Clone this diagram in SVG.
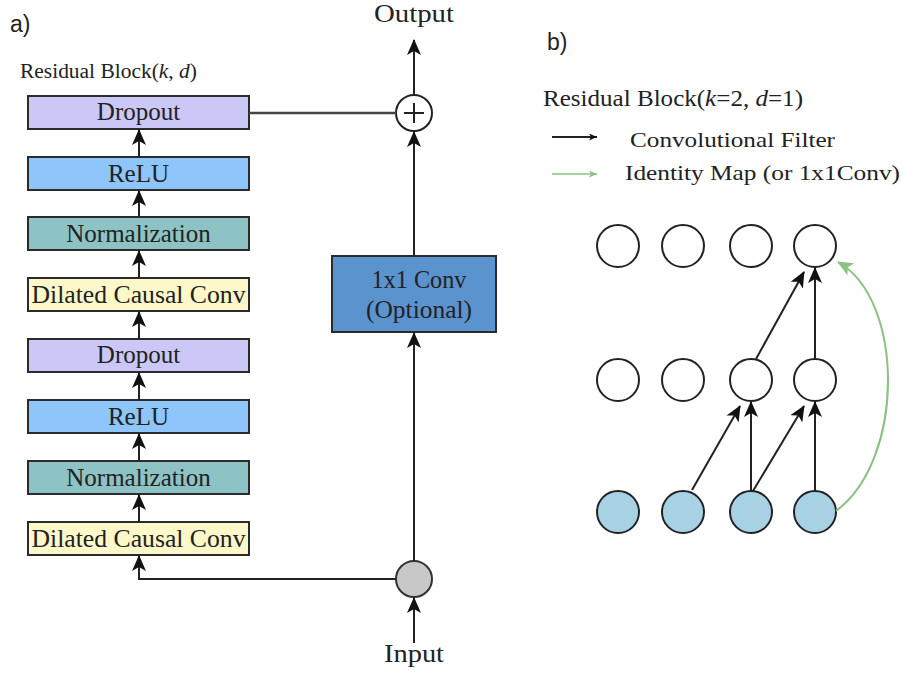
<svg xmlns="http://www.w3.org/2000/svg" width="903" height="673" viewBox="0 0 903 673">
<defs>
<style>
.box{stroke:#2b2b2b;stroke-width:2}
.lbl{font-family:"Liberation Serif",serif;font-size:25px;fill:#222;text-anchor:middle}
.serif{font-family:"Liberation Serif",serif;fill:#222}
.sans{font-family:"Liberation Sans",sans-serif;font-size:23px;fill:#222}
.ln{stroke:#222;stroke-width:2;fill:none}
.node{fill:#fff;stroke:#222;stroke-width:2}
.in{fill:#a6d2e4;stroke:#222;stroke-width:2}
</style>
<marker id="ah" markerUnits="userSpaceOnUse" markerWidth="16" markerHeight="14" refX="15" refY="7" orient="auto" viewBox="0 0 16 14">
<path d="M0,0 L16,7 L0,14 L4,7 z" fill="#111"/>
</marker>
<marker id="ahs" markerUnits="userSpaceOnUse" markerWidth="8" markerHeight="7" refX="8" refY="3.5" orient="auto" viewBox="0 0 8 7">
<path d="M0,0 L8,3.5 L0,7 L2,3.5 z" fill="#111"/>
</marker>
<marker id="ahg" markerUnits="userSpaceOnUse" markerWidth="16" markerHeight="14" refX="15" refY="7" orient="auto" viewBox="0 0 16 14">
<path d="M0,0 L16,7 L0,14 L4,7 z" fill="#8cc084"/>
</marker>
<marker id="ahgs" markerUnits="userSpaceOnUse" markerWidth="8" markerHeight="7" refX="8" refY="3.5" orient="auto" viewBox="0 0 8 7">
<path d="M0,0 L8,3.5 L0,7 L2,3.5 z" fill="#8cc084"/>
</marker>
</defs>
<rect width="903" height="673" fill="#fff"/>

<text class="sans" x="10" y="32">a)</text>
<text class="serif" x="20" y="78" font-size="20" textLength="177" lengthAdjust="spacingAndGlyphs">Residual Block(<tspan font-style="italic">k</tspan>, <tspan font-style="italic">d</tspan>)</text>

<g id="dropout1"><rect class="box" x="28" y="96" width="221" height="33" fill="#cbc8f7"/><text class="lbl" x="138.5" y="120">Dropout</text></g>
<g id="relu1"><rect class="box" x="28" y="157" width="221" height="33" fill="#8ec5fb"/><text class="lbl" x="138.5" y="182">ReLU</text></g>
<g id="norm1"><rect class="box" x="28" y="217" width="221" height="33" fill="#8ec3c6"/><text class="lbl" x="138.5" y="242">Normalization</text></g>
<g id="dilated1"><rect class="box" x="28" y="278" width="221" height="33" fill="#fdf8c9"/><text class="lbl" x="138.5" y="303" textLength="214" lengthAdjust="spacingAndGlyphs">Dilated Causal Conv</text></g>
<g id="dropout2"><rect class="box" x="28" y="339" width="221" height="33" fill="#cbc8f7"/><text class="lbl" x="138.5" y="363">Dropout</text></g>
<g id="relu2"><rect class="box" x="28" y="400" width="221" height="33" fill="#8ec5fb"/><text class="lbl" x="138.5" y="425">ReLU</text></g>
<g id="norm2"><rect class="box" x="28" y="461" width="221" height="33" fill="#8ec3c6"/><text class="lbl" x="138.5" y="486">Normalization</text></g>
<g id="dilated2"><rect class="box" x="28" y="522" width="221" height="33" fill="#fdf8c9"/><text class="lbl" x="138.5" y="547" textLength="214" lengthAdjust="spacingAndGlyphs">Dilated Causal Conv</text></g>

<g id="conv1x1"><rect class="box" x="332" y="256" width="164" height="76" fill="#5b93cf"/><text class="lbl" x="419" y="288" textLength="95" lengthAdjust="spacingAndGlyphs">1x1 Conv</text><text class="lbl" x="419" y="318" textLength="106" lengthAdjust="spacingAndGlyphs">(Optional)</text></g>
<g id="plus"><circle cx="414" cy="113" r="18" fill="#fff" stroke="#222" stroke-width="2"/><path d="M404,113 H424 M414,103 V123" stroke="#222" stroke-width="2"/></g>
<g id="split"><circle cx="414" cy="579" r="18" fill="#c8c8c8" stroke="#333" stroke-width="2"/></g>
<g id="output"><text class="serif" x="414" y="22" font-size="25" text-anchor="middle" textLength="80" lengthAdjust="spacingAndGlyphs">Output</text></g>
<g id="input"><text class="serif" x="414" y="662" font-size="25" text-anchor="middle" textLength="60" lengthAdjust="spacingAndGlyphs">Input</text></g>

<g id="connectors-a">
<path class="ln" d="M139,157 V130" marker-end="url(#ah)"/>
<path class="ln" d="M139,217 V191" marker-end="url(#ah)"/>
<path class="ln" d="M139,278 V251" marker-end="url(#ah)"/>
<path class="ln" d="M139,339 V312" marker-end="url(#ah)"/>
<path class="ln" d="M139,400 V373" marker-end="url(#ah)"/>
<path class="ln" d="M139,461 V434" marker-end="url(#ah)"/>
<path class="ln" d="M139,522 V495" marker-end="url(#ah)"/>
<path class="ln" d="M396,579 H139 V556" marker-end="url(#ah)"/>
<path class="ln" d="M414,643 V598" marker-end="url(#ah)"/>
<path class="ln" d="M414,561 V333" marker-end="url(#ah)"/>
<path class="ln" d="M414,256 V132" marker-end="url(#ah)"/>
<path class="ln" d="M414,95 V40" marker-end="url(#ah)"/>
<path d="M249,113 H396" stroke="#444" stroke-width="2.5" fill="none"/>
</g>

<text class="sans" x="547" y="50">b)</text>
<text class="serif" x="543" y="106" font-size="23" textLength="260" lengthAdjust="spacingAndGlyphs">Residual Block(<tspan font-style="italic">k</tspan>=2, <tspan font-style="italic">d</tspan>=1)</text>
<g id="legend">
<path class="ln" d="M552,137 H597" stroke-width="1.5" marker-end="url(#ahs)"/>
<text class="serif" x="630" y="147" font-size="21" textLength="205" lengthAdjust="spacingAndGlyphs">Convolutional Filter</text>
<path d="M552,174 H597" stroke="#8cc084" stroke-width="1.5" fill="none" marker-end="url(#ahgs)"/>
<text class="serif" x="625" y="180" font-size="21" textLength="275" lengthAdjust="spacingAndGlyphs">Identity Map (or 1x1Conv)</text>
</g>

<g id="t1"><circle class="node" cx="618" cy="246" r="21"/></g>
<g id="t2"><circle class="node" cx="683" cy="246" r="21"/></g>
<g id="t3"><circle class="node" cx="751" cy="246" r="21"/></g>
<g id="t4"><circle class="node" cx="815" cy="246" r="21"/></g>
<g id="m1"><circle class="node" cx="618" cy="380" r="21"/></g>
<g id="m2"><circle class="node" cx="683" cy="380" r="21"/></g>
<g id="m3"><circle class="node" cx="751" cy="380" r="21"/></g>
<g id="m4"><circle class="node" cx="815" cy="380" r="21"/></g>
<g id="b1"><circle class="in" cx="618" cy="512" r="21"/></g>
<g id="b2"><circle class="in" cx="683" cy="512" r="21"/></g>
<g id="b3"><circle class="in" cx="751" cy="512" r="21"/></g>
<g id="b4"><circle class="in" cx="815" cy="512" r="21"/></g>

<g id="connectors-b">
<path class="ln" d="M692,490 L740,406" marker-end="url(#ah)"/>
<path class="ln" d="M751,491 V402" marker-end="url(#ah)"/>
<path class="ln" d="M753,491 L804,406" marker-end="url(#ah)"/>
<path class="ln" d="M815,491 V402" marker-end="url(#ah)"/>
<path class="ln" d="M756,359 L804,272" marker-end="url(#ah)"/>
<path class="ln" d="M815,359 V268" marker-end="url(#ah)"/>
<path d="M836,511 C905,460 905,300 838,262" stroke="#8cc084" stroke-width="2" fill="none" marker-end="url(#ahg)"/>
</g>
</svg>
